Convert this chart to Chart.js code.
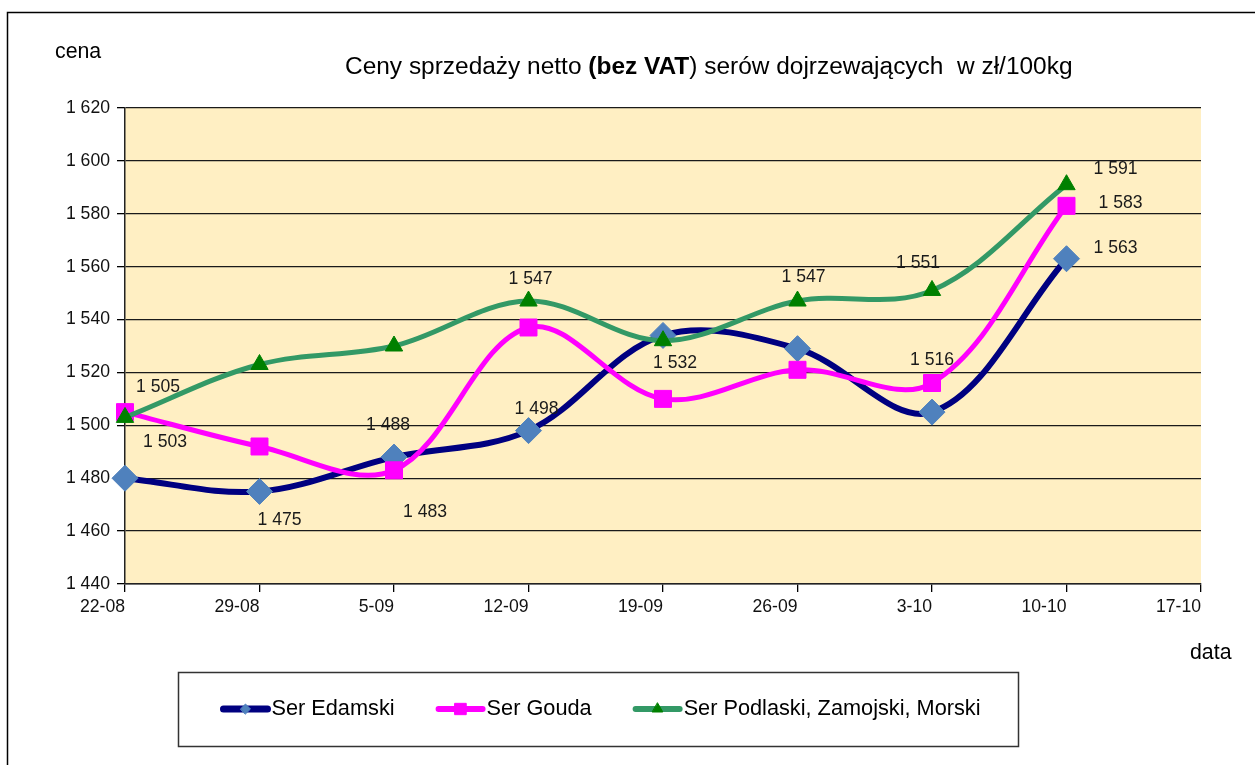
<!DOCTYPE html>
<html lang="pl">
<head>
<meta charset="utf-8">
<title>Ceny sprzedaży netto serów dojrzewających</title>
<script src="https://cdn.jsdelivr.net/npm/chart.js@4.4.1/dist/chart.umd.min.js"></script>
<style>
  html, body { margin: 0; padding: 0; background: #fff; }
  canvas { display: block; }
</style>
</head>
<body>
<canvas id="wykres" width="1255" height="765"></canvas>
<script>
// dane
const daty = ['22-08', '29-08', '5-09', '12-09', '19-09', '26-09', '3-10', '10-10', '17-10']
const serEdamski = [1480, 1475, 1488, 1498, 1534, 1529, 1505, 1563, null]
const serGouda = [1505, 1492, 1483, 1537, 1510, 1521, 1516, 1583, null]
const serPodlaski = [1503, 1523, 1530, 1547, 1532, 1547, 1551, 1591, null]
const cenaMin = 1440
const cenaMax = 1620
const cenaKrok = 20

// ktore wartosci maja podpis: [seria, indeks, dx, dy]
const podpisy = [
  [0, 1, 20, 29], [0, 2, -6, -32], [0, 3, 8, -21], [0, 7, 49, -11],
  [1, 0, 33, -25], [1, 2, 31, 42], [1, 6, 0, -23], [1, 7, 54, -3],
  [2, 0, 40, 25], [2, 3, 2, -22], [2, 4, 12, 22], [2, 5, 6, -24], [2, 6, -14, -27], [2, 7, 49, -16]
]

// czy jest waska czcionka (jak Arial Narrow)
const test = document.createElement('canvas').getContext('2d')
test.font = '40px monospace'
const wMono = test.measureText('Ser Edamski 1 620').width
test.font = '40px "Liberation Sans Narrow", monospace'
const maNarrow = test.measureText('Ser Edamski 1 620').width !== wMono
const CZCIONKA = maNarrow ? '"Liberation Sans Narrow", "Liberation Sans", sans-serif' : '"Liberation Sans", Arial, sans-serif'
const k = maNarrow ? 1 : 0.82

Chart.defaults.font.family = CZCIONKA
Chart.defaults.color = '#111'

function formatuj(v) {
  return String(v).replace(/\B(?=(\d{3})+(?!\d))/g, ' ')
}

const tlo = {
  id: 'tlo',
  beforeDraw(chart) {
    const ctx = chart.ctx
    const a = chart.chartArea
    ctx.save()
    ctx.fillStyle = '#fff'
    ctx.fillRect(0, 0, chart.width, chart.height)
    ctx.fillStyle = '#FFEFC3'
    ctx.fillRect(a.left, a.top, a.right - a.left, a.bottom - a.top)
    ctx.restore()
  }
}

const opisy = {
  id: 'opisy',
  afterDatasetsDraw(chart) {
    const ctx = chart.ctx
    ctx.save()
    ctx.font = (21.5 * k) + 'px ' + CZCIONKA
    ctx.fillStyle = '#1a1a1a'
    ctx.textAlign = 'center'
    ctx.textBaseline = 'middle'
    for (const [s, i, dx, dy] of podpisy) {
      const pt = chart.getDatasetMeta(s).data[i]
      const v = chart.data.datasets[s].data[i]
      ctx.fillText(formatuj(v), pt.x + dx, pt.y + dy)
    }
    ctx.restore()
  }
}

const ramki = {
  id: 'ramki',
  afterDraw(chart) {
    const ctx = chart.ctx
    ctx.save()
    // ramka calego wykresu
    ctx.strokeStyle = '#000'
    ctx.lineWidth = 1.5
    ctx.strokeRect(7.5, 12.5, 1400, 900)

    // tytul z pogrubionym fragmentem
    const czesci = [
      ['Ceny sprzedaży netto ', ''],
      ['(bez VAT', 'bold '],
      [') serów dojrzewających  w zł/100kg', '']
    ]
    let rozmiar = 30
    let suma = 0
    for (const [t, w] of czesci) {
      ctx.font = w + rozmiar + 'px ' + CZCIONKA
      suma += ctx.measureText(t).width
    }
    rozmiar = rozmiar * 728 / suma
    let x = 345
    ctx.textBaseline = 'middle'
    ctx.fillStyle = '#000'
    for (const [t, w] of czesci) {
      ctx.font = w + rozmiar + 'px ' + CZCIONKA
      ctx.fillText(t, x, 67)
      x += ctx.measureText(t).width
    }

    // opisy osi
    ctx.font = (26 * k) + 'px ' + CZCIONKA
    ctx.fillText('cena', 55, 52)
    ctx.fillText('data', 1190, 653)

    // legenda
    ctx.strokeStyle = '#333'
    ctx.lineWidth = 1.5
    ctx.strokeRect(178.5, 672.5, 840, 74)
    ctx.font = (26.5 * k) + 'px ' + CZCIONKA
    const zestawy = chart.data.datasets
    let szer = 0
    for (const d of zestawy) szer += 48 + ctx.measureText(d.label).width
    szer += 44 * (zestawy.length - 1)
    x = 602 - szer / 2
    const y = 709
    for (const d of zestawy) {
      ctx.strokeStyle = d.borderColor
      ctx.lineWidth = d.borderWidth + 1
      ctx.lineCap = 'round'
      ctx.beginPath()
      ctx.moveTo(x, y)
      ctx.lineTo(x + 44, y)
      ctx.stroke()
      ctx.fillStyle = d.pointBackgroundColor
      ctx.strokeStyle = d.pointBorderColor
      ctx.lineWidth = 1
      Chart.helpers.drawPoint(ctx, {
        pointStyle: d.pointStyle, radius: d.legendRadius, rotation: 0, borderWidth: 1
      }, x + 22, y)
      ctx.fillStyle = '#000'
      ctx.textAlign = 'left'
      ctx.fillText(d.label, x + 48, y)
      x += 48 + ctx.measureText(d.label).width + 44
    }
    ctx.restore()
  }
}

new Chart(document.getElementById('wykres'), {
  type: 'line',
  data: {
    labels: daty,
    datasets: [{
      label: 'Ser Edamski',
      data: serEdamski,
      borderColor: '#000080',
      borderWidth: 6,
      pointStyle: 'rectRot',
      pointRadius: 13,
      pointHoverRadius: 13,
      pointBackgroundColor: '#4F81BD',
      pointBorderColor: '#4F81BD',
      pointBorderWidth: 1,
      legendRadius: 5,
      tension: 0.35,
      order: 3
    }, {
      label: 'Ser Gouda',
      data: serGouda,
      borderColor: '#FF00FF',
      borderWidth: 5,
      pointStyle: 'rect',
      pointRadius: 12,
      pointHoverRadius: 12,
      pointBackgroundColor: '#FF00FF',
      pointBorderColor: '#FF00FF',
      pointBorderWidth: 1,
      legendRadius: 8,
      tension: 0.35,
      order: 2
    }, {
      label: 'Ser Podlaski, Zamojski, Morski',
      data: serPodlaski,
      borderColor: '#339966',
      borderWidth: 5,
      pointStyle: 'triangle',
      pointRadius: 10,
      pointHoverRadius: 10,
      pointBackgroundColor: '#008000',
      pointBorderColor: '#008000',
      pointBorderWidth: 1,
      legendRadius: 6,
      tension: 0.35,
      order: 1
    }]
  },
  options: {
    responsive: false,
    animation: false,
    events: [],
    layout: { padding: { top: 108, right: 54, bottom: 0, left: 0 } },
    plugins: {
      legend: { display: false },
      title: { display: false },
      tooltip: { enabled: false }
    },
    scales: {
      x: {
        offset: false,
        grid: { drawOnChartArea: false, drawTicks: true, tickLength: 8, tickColor: '#000', lineWidth: 1.3 },
        border: { display: true, color: '#222', width: 1.5 },
        ticks: {
          align: 'end', autoSkip: false, maxRotation: 0, minRotation: 0, padding: 5,
          font: { size: 21.5 * k }, color: '#111'
        },
        afterFit(scale) {
          scale.height = 765 - 584
          scale.paddingLeft = 0
          scale.paddingRight = 0
        }
      },
      y: {
        min: cenaMin,
        max: cenaMax,
        grid: { color: '#1a1a1a', lineWidth: 1.3, drawTicks: true, tickLength: 8, tickColor: '#000' },
        border: { display: true, color: '#222', width: 1.5 },
        ticks: {
          stepSize: cenaKrok, padding: 7,
          font: { size: 21.5 * k }, color: '#111',
          callback: v => formatuj(v)
        },
        afterFit(scale) {
          scale.width = 125
        }
      }
    }
  },
  plugins: [tlo, opisy, ramki]
})
</script>
</body>
</html>
